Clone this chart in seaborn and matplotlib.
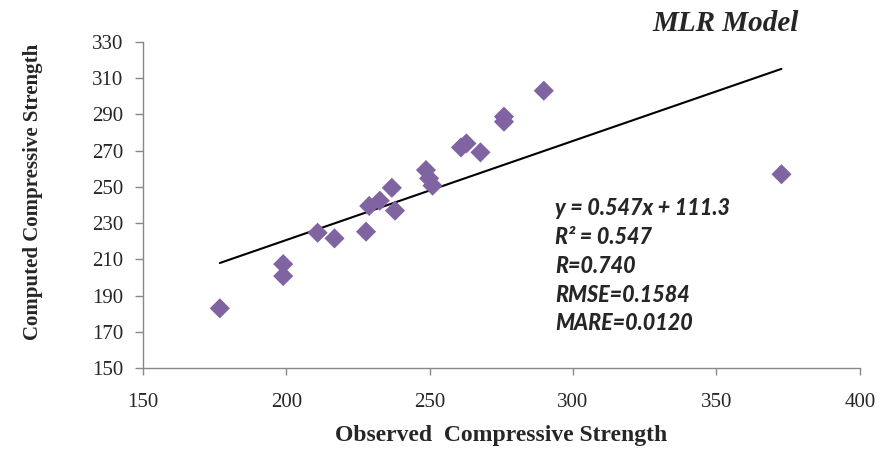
import pandas as pd
import matplotlib.pyplot as plt
import seaborn as sns
import numpy as np

# observed vs computed compressive strength
observed = [176.8, 198.9, 198.9, 210.9, 216.8, 227.8, 228.9, 232.6, 236.8, 237.9,
            248.7, 249.8, 251.0, 260.9, 262.8, 267.7, 275.9, 275.9, 289.8, 372.7]
computed = [183.0, 207.4, 200.8, 224.7, 221.6, 225.3, 239.5, 242.4, 249.5, 236.9,
            259.3, 254.7, 250.7, 271.8, 274.0, 269.1, 288.8, 286.0, 303.1, 257.0]

slope, intercept = 0.547, 111.3
stats_lines = ["y = 0.547x + 111.3", "R² = 0.547", "R=0.740", "RMSE=0.1584", "MARE=0.0120"]

df = pd.DataFrame({"obs": observed, "comp": computed})
xfit = np.array([min(observed), max(observed)])
fit = pd.DataFrame({"x": xfit, "y": slope * xfit + intercept})

sns.set_style("white")
plt.rcParams["font.family"] = ["Liberation Serif", "DejaVu Serif"]

fig = plt.figure(figsize=(8.8, 4.5), dpi=100)
ax = fig.add_axes([0.1625, 0.182, 0.8145, 0.7247])

sns.lineplot(data=fit, x="x", y="y", color="black", linewidth=1.5, ax=ax)
sns.scatterplot(data=df, x="obs", y="comp", marker="D", s=105, color="#8064A2",
                edgecolor="none", ax=ax, zorder=3)

ax.set_xlim(150, 400)
ax.set_ylim(150, 330)
ax.set_xticks(range(150, 401, 50))
ax.set_yticks(range(150, 331, 20))
ax.tick_params(axis="both", labelsize=15, color="#888888", width=1,
               direction="out", left=True, bottom=True)
ax.tick_params(axis="y", length=6, pad=8)
ax.tick_params(axis="x", length=5, pad=13)
for side in ["top", "right"]:
    ax.spines[side].set_visible(False)
for side in ["left", "bottom"]:
    ax.spines[side].set_color("#888888")
    ax.spines[side].set_linewidth(1)

ax.set_xlabel("Observed  Compressive Strength", fontsize=17, fontweight="bold", labelpad=9)
ax.set_ylabel("Computed Compressive Strength", fontsize=15, fontweight="bold")
ax.yaxis.set_label_coords(-0.14, 0.54)

fig.text(0.825, 0.948, "MLR Model", fontsize=21, fontweight="bold", style="italic",
         ha="center", va="center")

for i, line in enumerate(stats_lines):
    ax.text(0.575, 0.488 - i * 0.088, line, transform=ax.transAxes, fontsize=15.5,
            fontweight="black", style="italic", family=["Lato", "DejaVu Sans"],
            ha="left", va="center")

fig.savefig("out.png", dpi=100)
